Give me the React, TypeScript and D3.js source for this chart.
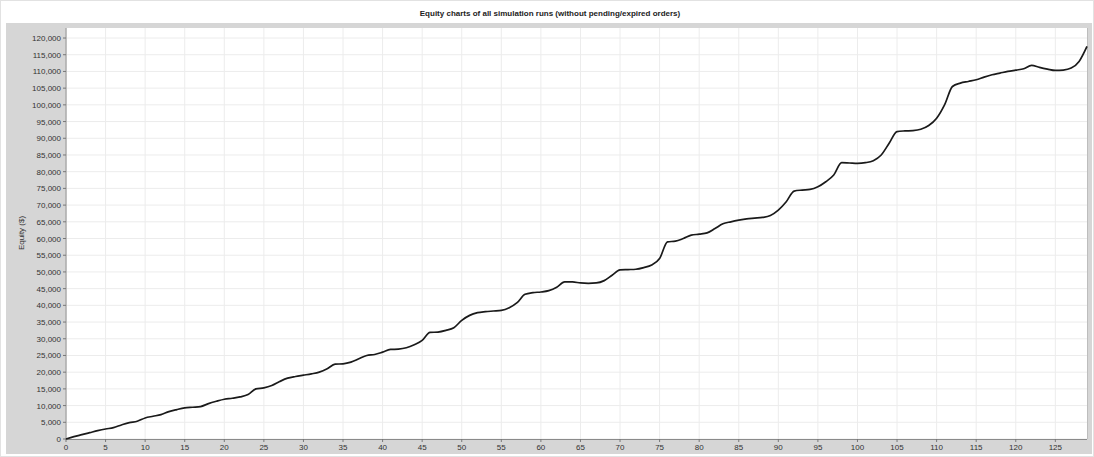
import React from "react";
import * as d3 from "d3";

const title = "Equity charts of all simulation runs (without pending/expired orders)";
const yLabel = "Equity ($)";

const runIndex: number[] = d3.range(0, 130);
const equity: number[] = [
  0, 700, 1300, 1900, 2500, 3000, 3400, 4200, 4900, 5300,
  6300, 6800, 7300, 8200, 8800, 9300, 9500, 9700, 10600, 11300,
  11900, 12200, 12600, 13300, 15000, 15300, 16000, 17200, 18200, 18700,
  19100, 19500, 20000, 21000, 22400, 22500, 23000, 24000, 25000, 25300,
  26000, 26800, 26900, 27300, 28200, 29500, 31900, 32000, 32500, 33300,
  35500, 37000, 37800, 38100, 38300, 38500, 39300, 40800, 43300, 43800,
  44000, 44400, 45400, 47000, 47000, 46700, 46600, 46700, 47400, 49000,
  50600, 50700, 50800, 51300, 52100, 54000, 59000, 59200, 60000, 61000,
  61300, 61700, 63000, 64400, 65000, 65500, 65900, 66100, 66300, 66900,
  68500, 71000, 74200, 74500, 74700, 75500, 77000, 79000, 82700, 82600,
  82500, 82700, 83300, 85000, 88500, 92000, 92200, 92300, 92700, 93800,
  96000, 100000, 105500, 106500, 107000, 107500, 108300, 109000, 109500, 110000,
  110400, 110800, 111800, 111200, 110700, 110300, 110400, 111000, 113000, 117500,
];

const xTicks: number[] = d3.range(0, 130, 5);
const yTicks: number[] = d3.range(0, 120001, 5000);

const W = 1094;
const H = 457;
const plotL = 66;
const plotR = 1087;
const plotT = 28;
const plotB = 439;

export default function App() {
  const x = d3.scaleLinear().domain([0, 129]).range([plotL, plotR]);
  const y = d3.scaleLinear().domain([0, 123000]).range([plotB, plotT]);
  const fmt = d3.format(",");
  const line = d3
    .line<number>()
    .x((_, i) => x(runIndex[i]))
    .y((d) => y(d))
    .curve(d3.curveMonotoneX);
  const font = "'Liberation Sans', Arial, sans-serif";
  return (
    <svg
      width={W}
      height={H}
      style={{ position: "absolute", left: 0, top: 0, background: "#fff" }}
      fontFamily={font}
    >
      <rect x={0.5} y={0.5} width={W - 1} height={H - 1} fill="#fff" stroke="#e2e2e2" />
      <text x={550} y={16} textAnchor="middle" fontSize={8} fontWeight="bold" fill="#222">
        {title}
      </text>
      <rect x={6} y={23} width={1086} height={431} fill="#d6d6d6" />
      <rect x={plotL} y={plotT} width={plotR - plotL} height={plotB - plotT} fill="#fff" />
      {xTicks.map((t) => (
        <line key={"gx" + t} x1={x(t)} x2={x(t)} y1={plotT} y2={plotB} stroke="#ececec" strokeWidth={1} />
      ))}
      {yTicks.map((t) => (
        <line key={"gy" + t} x1={plotL} x2={plotR} y1={y(t)} y2={y(t)} stroke="#ececec" strokeWidth={1} />
      ))}
      <line x1={plotL} x2={plotL} y1={plotT} y2={plotB + 1} stroke="#8a8a8a" strokeWidth={1} />
      <line x1={plotL} x2={plotR} y1={plotB + 0.5} y2={plotB + 0.5} stroke="#8a8a8a" strokeWidth={1} />
      <line x1={plotR + 0.5} x2={plotR + 0.5} y1={plotT} y2={plotB} stroke="#bdbdbd" strokeWidth={1} />
      {yTicks.map((t) => (
        <g key={"ty" + t}>
          <line x1={plotL - 3} x2={plotL} y1={y(t)} y2={y(t)} stroke="#777" />
          <text x={plotL - 5} y={y(t) + 3} textAnchor="end" fontSize={8} fill="#333">
            {fmt(t)}
          </text>
        </g>
      ))}
      {xTicks.map((t) => (
        <g key={"tx" + t}>
          <line x1={x(t)} x2={x(t)} y1={plotB} y2={plotB + 3} stroke="#777" />
          <text x={x(t)} y={plotB + 11} textAnchor="middle" fontSize={8} fill="#333">
            {t}
          </text>
        </g>
      ))}
      <text
        transform={`translate(24, 233) rotate(-90)`}
        textAnchor="middle"
        fontSize={8}
        fill="#333"
      >
        {yLabel}
      </text>
      <path d={line(equity) || ""} fill="none" stroke="#1a1a1a" strokeWidth={1.7} />
    </svg>
  );
}
